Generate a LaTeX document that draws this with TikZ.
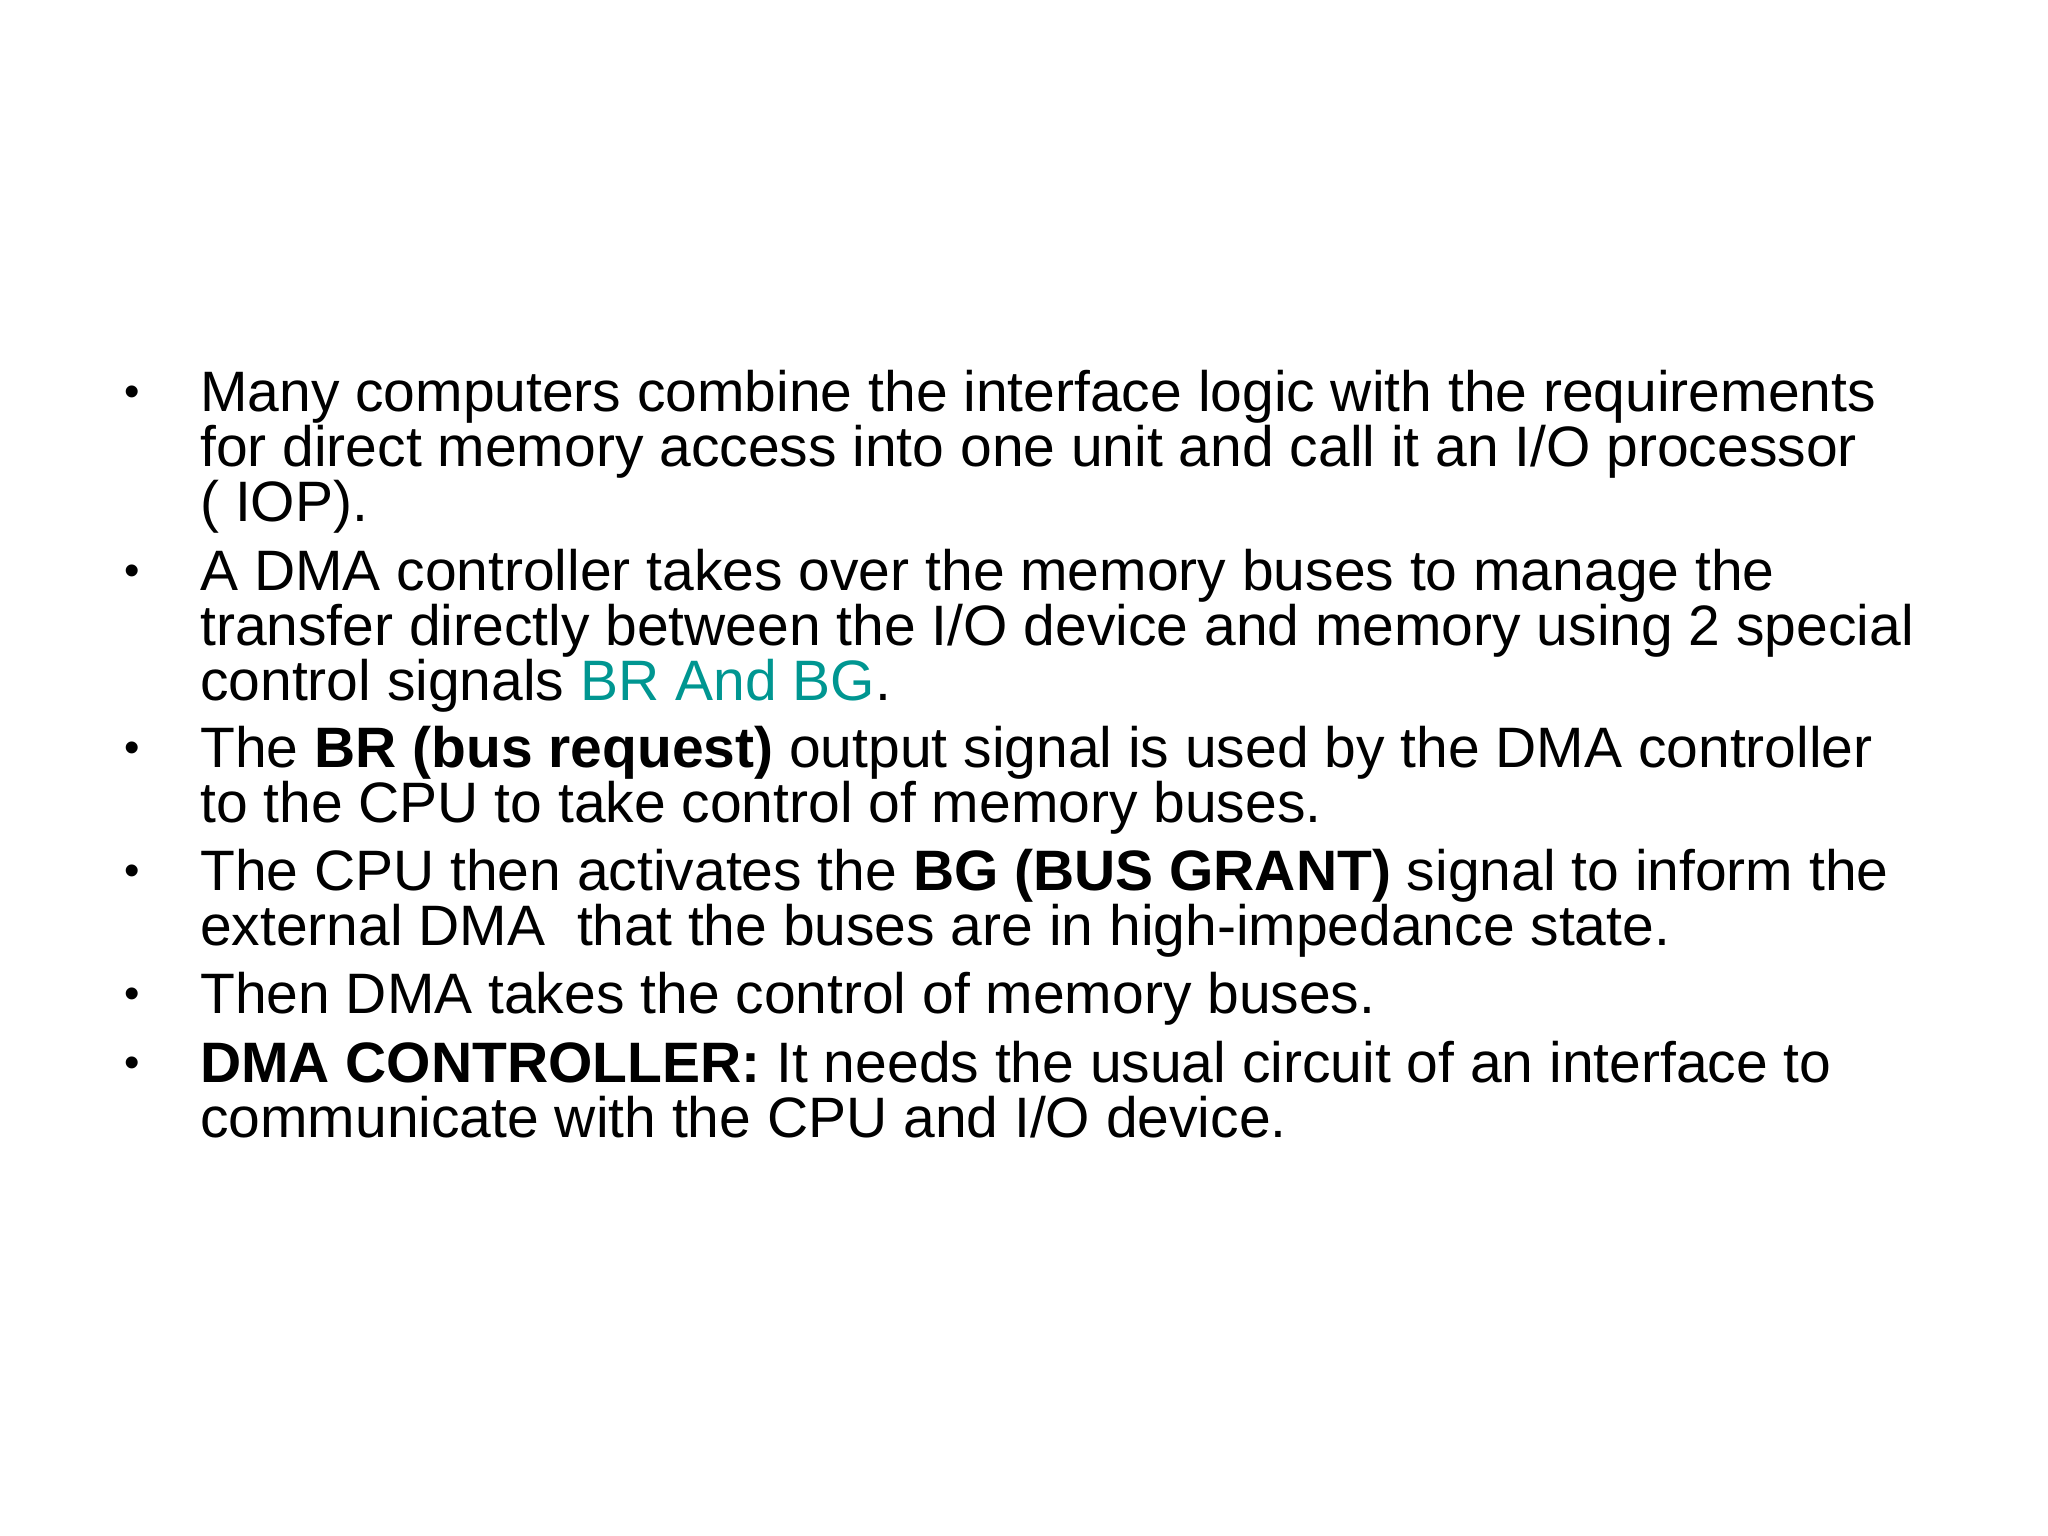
\documentclass[tikz,border=0pt]{standalone}
\usepackage{fontspec}
\setmainfont{Liberation Sans}
\definecolor{tealc}{RGB}{0,150,145}
\begin{document}
\begin{tikzpicture}[x=0.6531pt,y=-0.6531pt,
  ln/.style={anchor=base west,inner sep=0pt,font=\fontsize{28.5}{32}\selectfont},
  bul/.style={anchor=base,inner sep=0pt,font=\fontsize{22}{26}\selectfont}]
\useasboundingbox (0,0) rectangle (1568,1176);
\foreach \y/\n in {315/b1,452/b2,588/b3,682/b4,776/b5,829/b6}
  \node[bul] (\n) at (101,\y-4) {•};
\node[ln] (l1) at (153,315) {Many computers combine the interface logic with the requirements};
\node[ln] (l2) at (153,357) {for direct memory access into one unit and call it an I/O processor};
\node[ln] (l3) at (153,399) {( IOP).};
\node[ln] (l4) at (153,452) {A DMA controller takes over the memory buses to manage the};
\node[ln] (l5) at (153,494) {transfer directly between the I/O device and memory using 2 special};
\node[ln] (l6) at (153,536) {control signals \textcolor{tealc}{BR And BG}.};
\node[ln] (l7) at (153,588) {The \textbf{BR (bus request)} output signal is used by the DMA controller};
\node[ln] (l8) at (153,630) {to the CPU to take control of memory buses.};
\node[ln] (l9) at (153,682) {The CPU then activates the \textbf{BG (BUS GRANT)} signal to inform the};
\node[ln] (l10) at (153,724) {external DMA\ \ that the buses are in high-impedance state.};
\node[ln] (l11) at (153,776) {Then DMA takes the control of memory buses.};
\node[ln] (l12) at (153,829) {\textbf{DMA CONTROLLER:} It needs the usual circuit of an interface to};
\node[ln] (l13) at (153,871) {communicate with the CPU and I/O device.};
\end{tikzpicture}
\end{document}
